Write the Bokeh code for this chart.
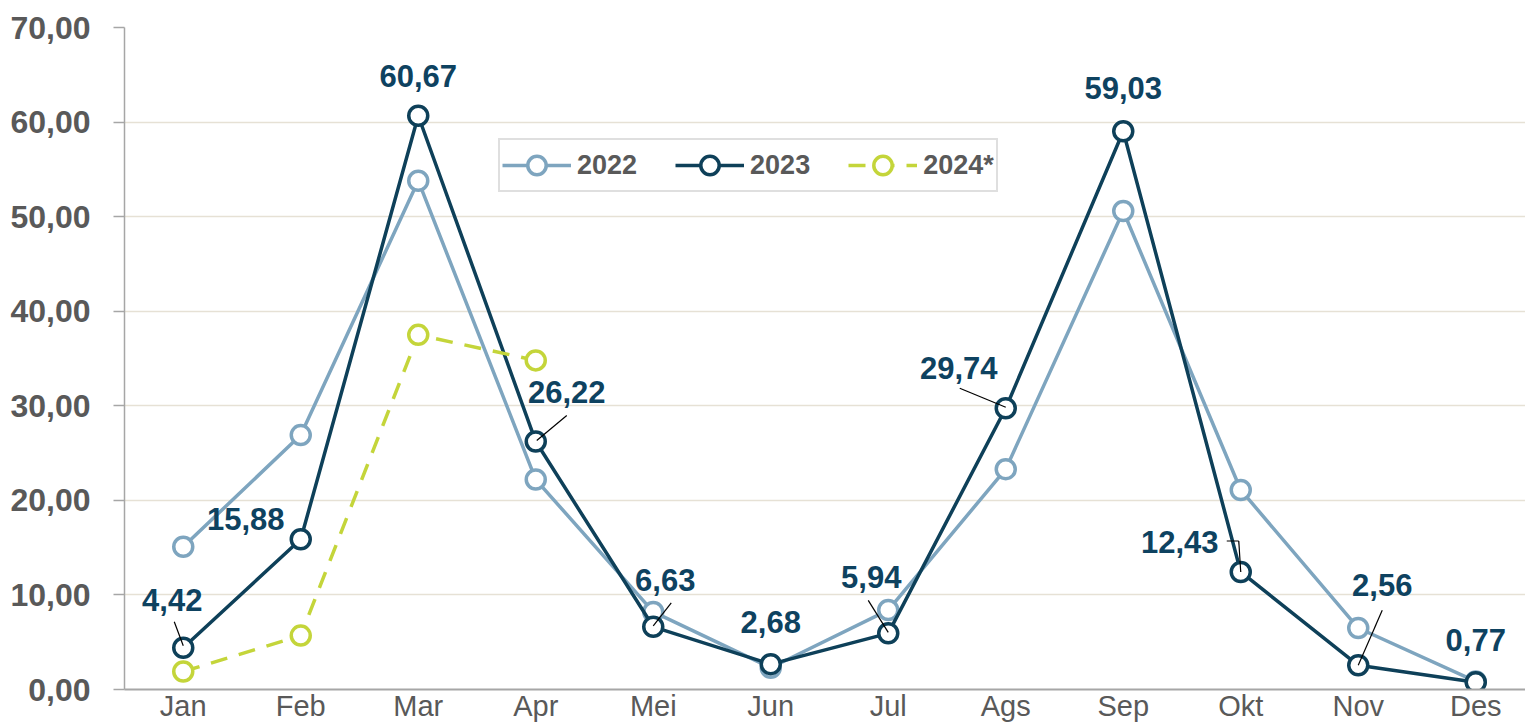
from bokeh.plotting import figure
from bokeh.models import FixedTicker, Legend, LegendItem, ColumnDataSource
from bokeh.core.properties import value
from bokeh.embed import file_html
from bokeh.resources import INLINE

months = ["Jan", "Feb", "Mar", "Apr", "Mei", "Jun", "Jul", "Ags", "Sep", "Okt", "Nov", "Des"]
v2022 = [15.1, 26.9, 53.8, 22.2, 8.2, 2.3, 8.4, 23.3, 50.6, 21.1, 6.5, 0.85]
v2023 = [4.42, 15.88, 60.67, 26.22, 6.63, 2.68, 5.94, 29.74, 59.03, 12.43, 2.56, 0.77]
v2024 = [1.9, 5.7, 37.5, 34.8]
y_ticks = [0, 10, 20, 30, 40, 50, 60, 70]
y_tick_labels = ["0,00", "10,00", "20,00", "30,00", "40,00", "50,00", "60,00", "70,00"]
labels_2023 = ["4,42", "15,88", "60,67", "26,22", "6,63", "2,68", "5,94", "29,74", "59,03", "12,43", "2,56", "0,77"]

# label placement (screen px, relative to the point; +y is down)
lab_dx = [-11, -55, 0, 31, 12, 0, -17, -47, 0, -61, 24, 0]
lab_dy = [-48, -20, -40, -50, -47, -42, -56, -40, -43, -30, -80, -42]
# leader lines: (index, start dx, start dy, end dx, end dy) in px
leaders = [
    (0, -9, -26, 0, -2),
    (3, 31, -26, 1, -1),
    (4, 18, -24, 0, -1),
    (6, -20, -33, 0, -1),
    (7, -46, -20, 0, -1),
    (9, -14, -31, -2, -31),
    (9, -2, -31, 0, 0),
    (10, 24, -55, 0, 0),
]

C22 = "#7ea5bf"
C23 = "#0e4059"
C24 = "#c4d53a"
FONT = "Liberation Sans"

W, H = 1525, 724
LEFT, TOP = 124, 27
x = list(range(len(months)))
PX_X = 117.5
PX_Y = 9.47

p = figure(width=W, height=H, output_backend="svg", toolbar_location=None,
           x_range=(-0.5, -0.5 + (W - LEFT) / PX_X), y_range=(0, 70),
           min_border_left=LEFT, min_border_top=TOP, min_border_right=0, min_border_bottom=0)
p.outline_line_color = None
p.background_fill_color = "white"
p.border_fill_color = "white"

p.xgrid.grid_line_color = None
p.ygrid.ticker = FixedTicker(ticks=y_ticks)
p.ygrid.grid_line_color = "#e6e1d5"
p.ygrid.grid_line_width = 1.5

p.yaxis.ticker = FixedTicker(ticks=y_ticks)
p.yaxis.major_label_overrides = {t: s for t, s in zip(y_ticks, y_tick_labels)}
p.yaxis.major_label_text_font = FONT
p.yaxis.major_label_text_font_style = "bold"
p.yaxis.major_label_text_font_size = "32px"
p.yaxis.major_label_text_color = "#595959"
p.yaxis.major_label_standoff = 23
p.yaxis.major_tick_out = 11
p.yaxis.major_tick_in = 0
p.yaxis.minor_tick_line_color = None
p.yaxis.axis_line_color = "#a6a6a6"
p.yaxis.axis_line_width = 1.5
p.yaxis.major_tick_line_color = "#a6a6a6"
p.yaxis.major_tick_line_width = 1.5

p.xaxis.ticker = FixedTicker(ticks=x)
p.xaxis.major_label_overrides = {i: m for i, m in enumerate(months)}
p.xaxis.major_label_text_font = FONT
p.xaxis.major_label_text_font_size = "29px"
p.xaxis.major_label_text_color = "#595959"
p.xaxis.major_label_standoff = 0
p.xaxis.major_tick_out = 0
p.xaxis.major_tick_in = 0
p.xaxis.major_tick_line_color = None
p.xaxis.minor_tick_line_color = None
p.xaxis.axis_line_color = "#a6a6a6"
p.xaxis.axis_line_width = 2

r22l = p.line(x, v2022, line_color=C22, line_width=3.5)
r22s = p.scatter(x, v2022, size=19, fill_color="white", line_color=C22, line_width=3.5)
r23l = p.line(x, v2023, line_color=C23, line_width=3.5)
r23s = p.scatter(x, v2023, size=19, fill_color="white", line_color=C23, line_width=3.5)
x24 = x[:len(v2024)]
r24l = p.line(x24, v2024, line_color=C24, line_width=3.5, line_dash="17 12")
r24s = p.scatter(x24, v2024, size=19, fill_color="white", line_color=C24, line_width=3.5)

# leader lines
x0 = [x[i] + a / PX_X for i, a, b, c, d in leaders]
y0 = [v2023[i] - b / PX_Y for i, a, b, c, d in leaders]
x1 = [x[i] + c / PX_X for i, a, b, c, d in leaders]
y1 = [v2023[i] - d / PX_Y for i, a, b, c, d in leaders]
p.segment(x0, y0, x1, y1, line_color="black", line_width=1.2)

src = ColumnDataSource(dict(x=x, y=v2023, t=labels_2023, dx=lab_dx, dy=lab_dy))
p.text(x="x", y="y", text="t", x_offset="dx", y_offset="dy", source=src,
       text_font=value(FONT), text_font_style="bold", text_font_size="31px",
       text_color="#0e4260", text_align="center", text_baseline="middle")

legend = Legend(items=[
    LegendItem(label="2022", renderers=[r22l, r22s]),
    LegendItem(label="2023", renderers=[r23l, r23s]),
    LegendItem(label="2024*", renderers=[r24l, r24s]),
], orientation="horizontal", location=(374, 497))
legend.label_text_font = FONT
legend.label_text_font_style = "bold"
legend.label_text_font_size = "27px"
legend.label_text_color = "#595959"
legend.glyph_width = 69
legend.glyph_height = 46
legend.label_standoff = 6
legend.spacing = 38
legend.padding = 2
legend.margin = 0
legend.border_line_color = "#bfbfbf"
legend.border_line_width = 2
legend.background_fill_color = "white"
legend.background_fill_alpha = 1
p.add_layout(legend, "center")

open("out.html", "w").write(file_html(p, INLINE))
